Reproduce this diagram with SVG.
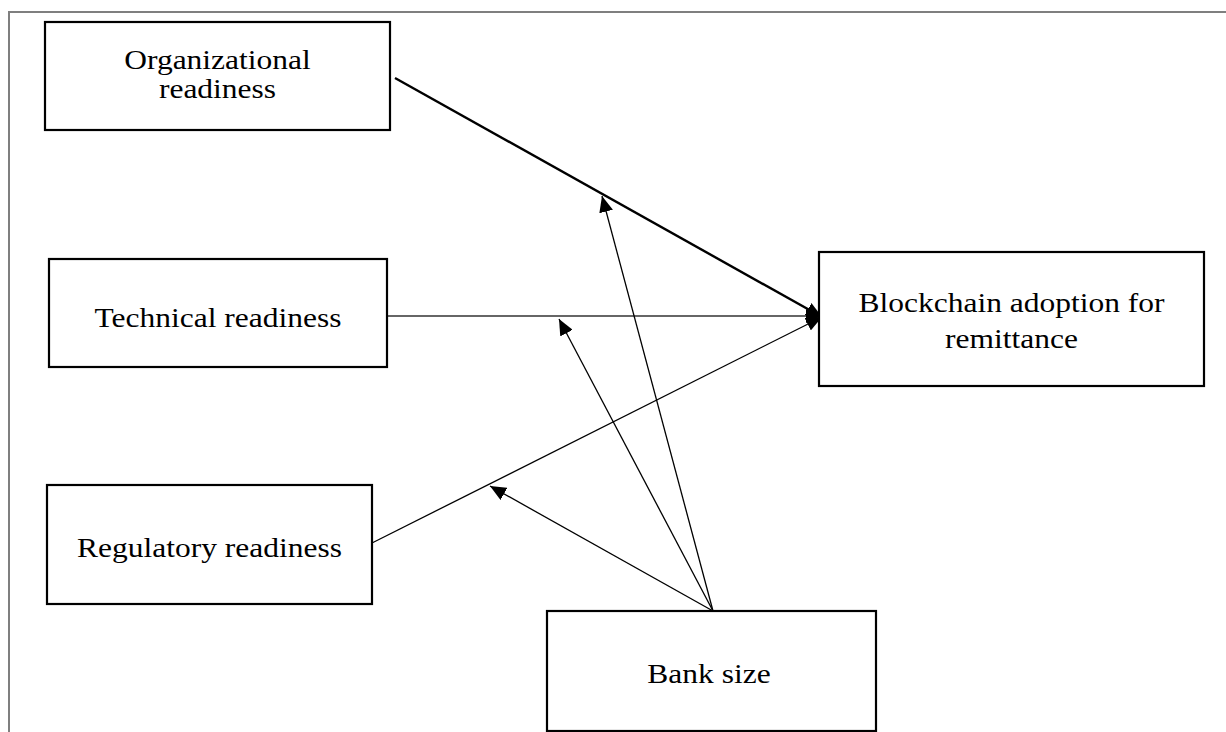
<svg xmlns="http://www.w3.org/2000/svg" width="1226" height="732" viewBox="0 0 1226 732">
<style>
.box{fill:#fff;stroke:#000;stroke-width:2.2}
.lbl{font-family:"Liberation Serif","Times New Roman",serif;font-size:31.5px;fill:#000;text-anchor:middle}
.conn{stroke:#000;stroke-width:1.3;fill:none}
.thick{stroke-width:2.4}
.grey{stroke:#333}
.frame{stroke:#7f7f7f;stroke-width:2;fill:none}
</style>
<defs>
<marker id="ah" viewBox="0 0 16 14" refX="16" refY="7" markerWidth="16" markerHeight="14" markerUnits="userSpaceOnUse" orient="auto">
<path d="M0,0 L16,7 L0,14 z" fill="#000"/>
</marker>
</defs>
<rect width="1226" height="732" fill="#fff"/>
<path class="frame" d="M9,732 L9,12 L1226,12"/>
<g id="connectors">
<line class="conn thick" x1="395" y1="78" x2="822" y2="317" marker-end="url(#ah)"/>
<line class="conn grey" x1="387" y1="316" x2="822" y2="316" marker-end="url(#ah)"/>
<line class="conn" x1="372" y1="543" x2="822" y2="317" marker-end="url(#ah)"/>
<line class="conn" x1="713" y1="611" x2="602" y2="196" marker-end="url(#ah)"/>
<line class="conn" x1="713" y1="611" x2="559" y2="319" marker-end="url(#ah)"/>
<line class="conn" x1="713" y1="611" x2="490" y2="486" marker-end="url(#ah)"/>
</g>
<g id="org">
<rect class="box" x="45" y="22" width="345" height="108"/>
<text class="lbl" transform="translate(217.5,69) scale(1,0.88)">Organizational</text>
<text class="lbl" transform="translate(217.5,98) scale(1,0.88)">readiness</text>
</g>
<g id="tech">
<rect class="box" x="49" y="259" width="338" height="108"/>
<text class="lbl" transform="translate(218,327) scale(1,0.88)">Technical readiness</text>
</g>
<g id="reg">
<rect class="box" x="47" y="485" width="325" height="119"/>
<text class="lbl" transform="translate(209.5,557) scale(1,0.88)">Regulatory readiness</text>
</g>
<g id="blockchain">
<rect class="box" x="819" y="252" width="385" height="134"/>
<text class="lbl" transform="translate(1011.5,312) scale(1,0.88)">Blockchain adoption for</text>
<text class="lbl" transform="translate(1011.5,348) scale(1,0.88)">remittance</text>
</g>
<g id="bank">
<rect class="box" x="547" y="611" width="329" height="120"/>
<text class="lbl" transform="translate(709,683) scale(1,0.88)">Bank size</text>
</g>
</svg>
